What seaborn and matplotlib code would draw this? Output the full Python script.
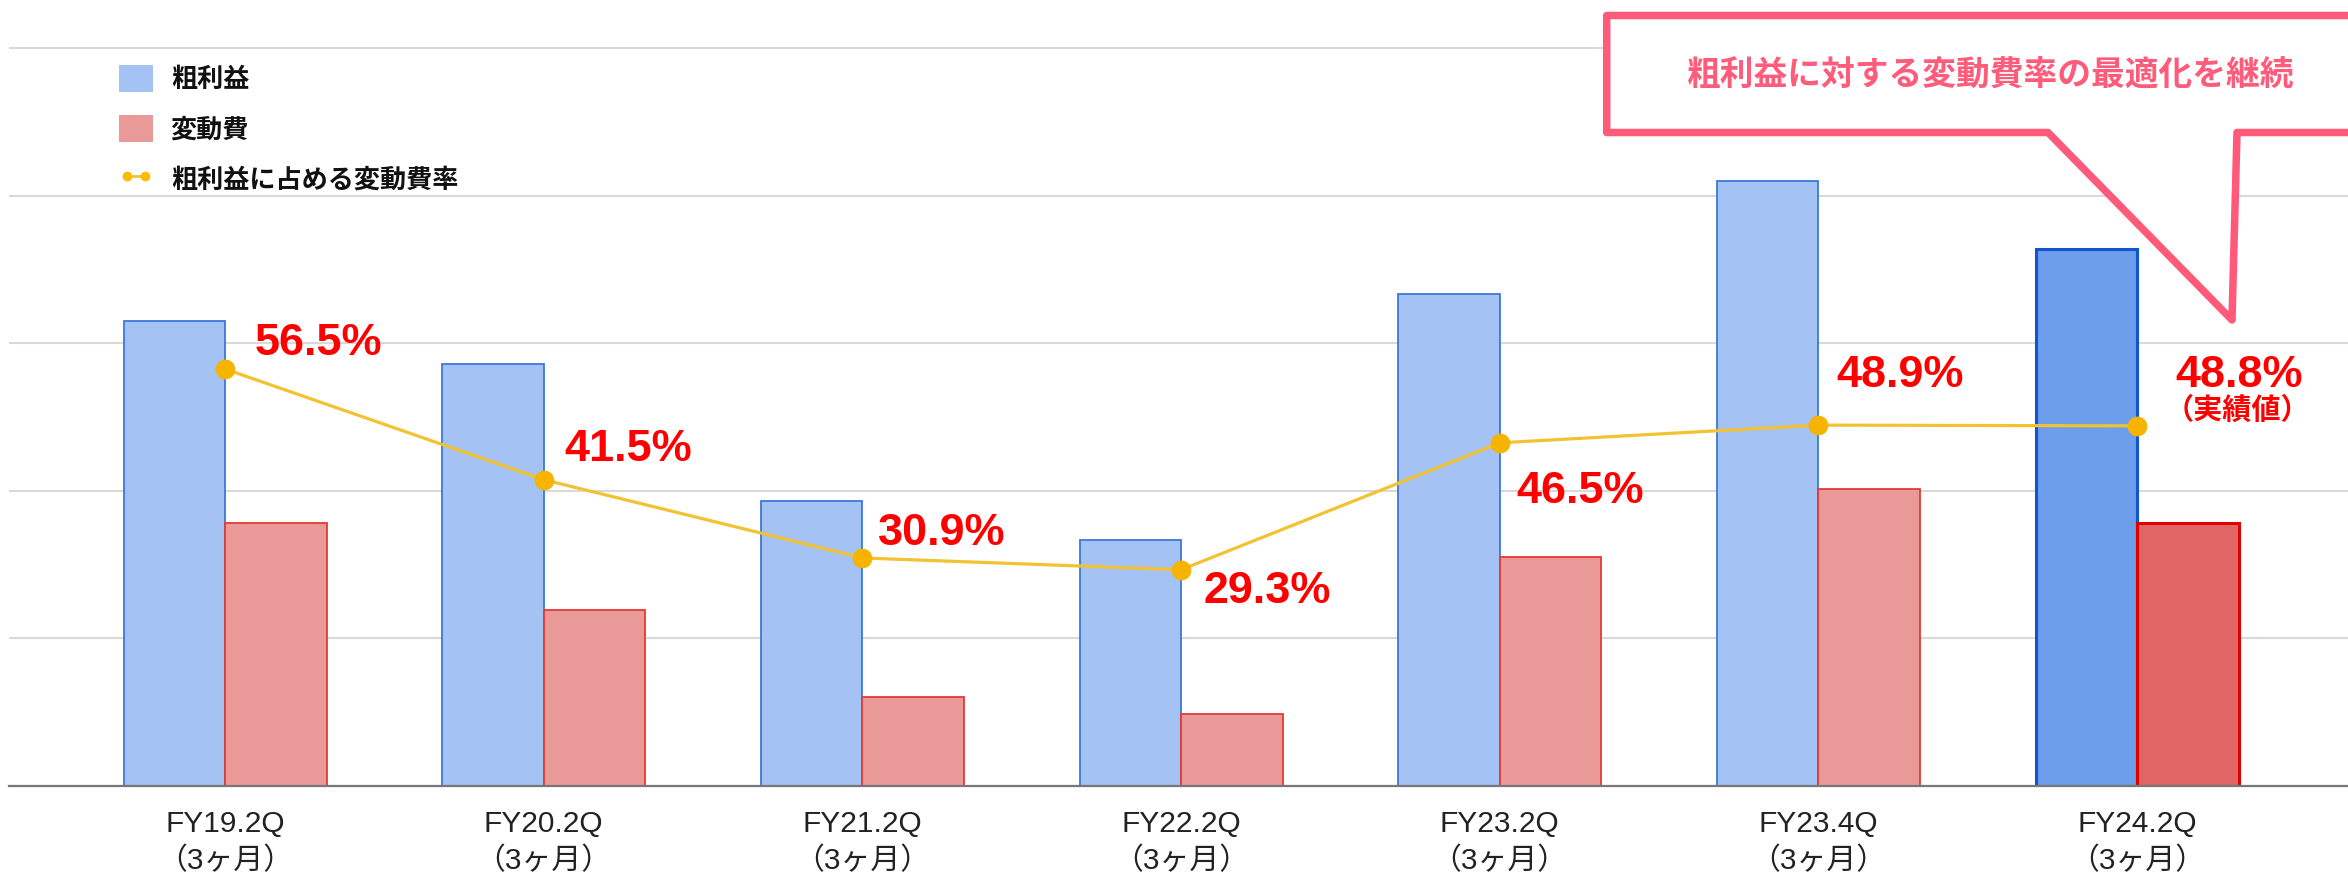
import numpy as np
import pandas as pd
import matplotlib
matplotlib.use('Agg')
import matplotlib.pyplot as plt
import seaborn as sns
from matplotlib.patches import Patch, Polygon
from matplotlib.lines import Line2D

# ---------------- data ----------------
periods = ['FY19.2Q', 'FY20.2Q', 'FY21.2Q', 'FY22.2Q', 'FY23.2Q', 'FY23.4Q', 'FY24.2Q']
gross_profit = [315, 286, 193, 167, 333, 410, 364]
variable_cost = [178, 119, 60, 49, 155, 201, 178]
cost_ratio = [56.5, 41.5, 30.9, 29.3, 46.5, 48.9, 48.8]
ratio_labels = ['56.5%', '41.5%', '30.9%', '29.3%', '46.5%', '48.9%', '48.8%']
series_names = ['粗利益', '変動費']
line_name = '粗利益に占める変動費率'
period_note = '（3ヶ月）'
actual_note = '（実績値）'
callout_text = '粗利益に対する変動費率の最適化を継続'

# ---------------- style ----------------
sns.set_theme(style='white')
plt.rcParams['font.family'] = ['Liberation Sans', 'Noto Sans CJK JP', 'DejaVu Sans']

W, H = 2348, 876
fig = plt.figure(figsize=(W / 100, H / 100), dpi=100)


def fx(px):
    return px / W


def fy(py):
    return 1 - py / H


ax_left, ax_right, ax_bottom, ax_top = 9, 2348, 786, 40.6
ax = fig.add_axes([fx(ax_left), fy(ax_bottom), (ax_right - ax_left) / W, (ax_bottom - ax_top) / H])

df = pd.DataFrame({
    'period': periods * 2,
    'series': [series_names[0]] * len(periods) + [series_names[1]] * len(periods),
    'value': gross_profit + variable_cost,
})

blue, red = '#a4c2f4', '#ea9999'
sns.barplot(data=df, x='period', y='value', hue='series', hue_order=series_names,
            palette=[blue, red], width=0.637, gap=0, saturation=1, errorbar=None,
            legend=False, ax=ax, zorder=2)

edge_colors = ['#3c78d8', '#e53935']
for cont, ec in zip(ax.containers, edge_colors):
    for p in cont:
        p.set_edgecolor(ec)
        p.set_linewidth(1.3)
# highlighted latest period
ax.containers[0][-1].set_facecolor('#6d9eeb')
ax.containers[0][-1].set_edgecolor('#1155cc')
ax.containers[0][-1].set_linewidth(2.2)
ax.containers[1][-1].set_facecolor('#e06666')
ax.containers[1][-1].set_edgecolor('#e00000')
ax.containers[1][-1].set_linewidth(2.2)

xlim = (-0.678, 6.662)
ax.set_xlim(*xlim)
ax.set_ylim(0, 505)
ax.set_yticks([0, 100, 200, 300, 400, 500])
ax.set_yticklabels([])
ax.set_xticks(range(len(periods)))
ax.set_xticklabels([f'{p}\n{period_note}' for p in periods], linespacing=1.4)
ax.tick_params(axis='x', length=0, pad=17, labelsize=21.5, labelcolor='#222222')
ax.tick_params(axis='y', length=0)
ax.set_xlabel('')
ax.set_ylabel('')
for s in ['top', 'right', 'left']:
    ax.spines[s].set_visible(False)
ax.spines['bottom'].set_color('#777777')
ax.spines['bottom'].set_linewidth(1.6)
ax.yaxis.grid(True, color='#d9d9d9', linewidth=1.5)
ax.xaxis.grid(False)
ax.set_axisbelow(True)

# ---------------- ratio line ----------------
ax2 = ax.twinx()
ax2.set_zorder(ax.get_zorder() + 1)
ax2.patch.set_visible(False)
sns.lineplot(x=np.arange(len(periods)), y=cost_ratio, ax=ax2, color='#f1c232', linewidth=2.3,
             marker='o', markersize=13.5, markerfacecolor='#f6b400', markeredgecolor='#f6b400',
             legend=False, zorder=5)
ax2.set_xlim(*xlim)
ax2.set_ylim(0, 101)
ax2.set_yticks([])
ax2.set_ylabel('')
ax2.grid(False)
for s in ax2.spines.values():
    s.set_visible(False)

label_dx = [0.094, 0.065, 0.048, 0.069, 0.051, 0.058, 0.119]
label_base = [58.4, 44.05, 32.7, 24.84, 38.4, 54.0, 54.1]
for i, (lab, dx, yb) in enumerate(zip(ratio_labels, label_dx, label_base)):
    ax2.text(i + dx, yb, lab, ha='left', va='baseline', fontsize=32.4,
             fontweight='bold', color='#ff0000', zorder=6)
ax2.text(6.315, 50.9, actual_note, ha='center', va='center', fontsize=21,
         fontweight='bold', color='#ff0000', family=['Noto Sans CJK JP'], zorder=6)

# ---------------- legend ----------------
handles = [
    Patch(facecolor=blue, edgecolor='none'),
    Patch(facecolor=red, edgecolor='none'),
    Line2D([0], [0], color='#f1c232', lw=2, marker='o', markersize=6,
           markerfacecolor='#fbbc04', markeredgecolor='#fbbc04'),
]
leg = ax2.legend(handles, [series_names[0], series_names[1], line_name], loc='upper left',
                 bbox_to_anchor=(fx(119), fy(65)), bbox_transform=fig.transFigure,
                 frameon=False, borderpad=0, borderaxespad=0, handlelength=1.3,
                 handleheight=1.2, handletextpad=0.68, labelspacing=0.84, numpoints=2,
                 prop={'family': 'Noto Sans CJK JP', 'weight': 'bold', 'size': 18.8})
for t in leg.get_texts():
    t.set_color('#111111')

# ---------------- callout ----------------
callout_px = [(2237, 132.5), (2365, 132.5), (2365, 15.5), (1606.7, 15.5),
              (1606.7, 132.5), (2048, 132.5), (2232, 320)]
poly = Polygon([(fx(x), fy(y)) for x, y in callout_px], closed=True, transform=fig.transFigure,
               facecolor='white', edgecolor='#ff5a7a', linewidth=5.4, joinstyle='round', zorder=10)
fig.add_artist(poly)
fig.text(fx(1991), fy(75), callout_text, ha='center', va='center', fontsize=24.3,
         fontweight='bold', color='#ff5c7c', family=['Noto Sans CJK JP'], zorder=11)

fig.savefig('out.png', dpi=100)
